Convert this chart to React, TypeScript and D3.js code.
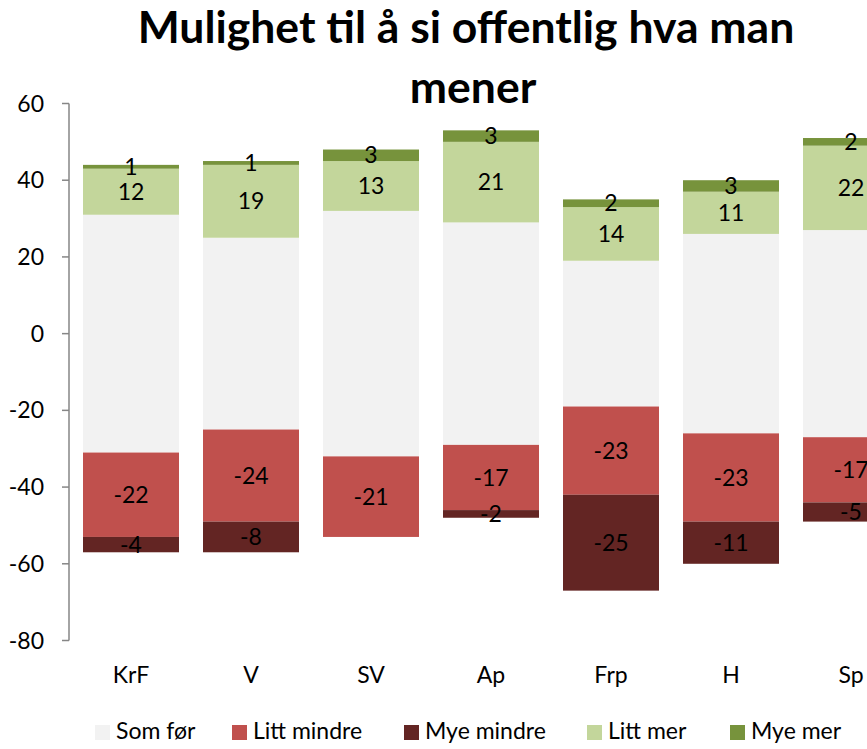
import React from "react";
import * as d3 from "d3";

// parties on the x axis
const parties = ["KrF", "V", "SV", "Ap", "Frp", "H", "Sp"];

// answers in percent
const somFor = [62, 50, 64, 58, 38, 52, 54];
const littMindre = [-22, -24, -21, -17, -23, -23, -17];
const myeMindre = [-4, -8, 0, -2, -25, -11, -5];
const littMer = [12, 19, 13, 21, 14, 11, 22];
const myeMer = [1, 1, 3, 3, 2, 3, 2];

const yTicks = [-80, -60, -40, -20, 0, 20, 40, 60];

const legendItems = ["Som før", "Litt mindre", "Mye mindre", "Litt mer", "Mye mer"];
const colors = ["#F2F2F2", "#C0504D", "#632523", "#C3D69B", "#77933C"];

const W = 867;
const H = 749;
const font = "Lato, 'Open Sans', sans-serif";

export default function App() {
  const x = d3.scaleBand().domain(parties).range([71, 911]).paddingInner(0.2).paddingOuter(0.1);
  const y = d3.scaleLinear().domain([-80, 60]).range([640.5, 103.5]);

  // build the segments: gray centred on zero, the rest stacked out from it
  const segs = [];
  parties.forEach((p, i) => {
    const half = somFor[i] / 2;
    segs.push({ p, y0: -half, y1: half, c: colors[0], label: null });
    let lo = -half;
    [littMindre[i], myeMindre[i]].forEach((v, k) => {
      if (v !== 0) segs.push({ p, y0: lo + v, y1: lo, c: colors[1 + k], label: v });
      lo += v;
    });
    let hi = half;
    [littMer[i], myeMer[i]].forEach((v, k) => {
      if (v !== 0) segs.push({ p, y0: hi, y1: hi + v, c: colors[3 + k], label: v });
      hi += v;
    });
  });

  const legendX = [95, 232, 404, 587, 730];

  return (
    <svg
      width={W}
      height={H}
      style={{ position: "absolute", left: 0, top: 0, background: "#fff" }}
      fontFamily={font}
    >
      <text x={466} y={43} textAnchor="middle" fontSize={44.5} fontWeight="bold">
        Mulighet til å si offentlig hva man
      </text>
      <text x={473} y={103} textAnchor="middle" fontSize={44.5} fontWeight="bold">
        mener
      </text>

      {/* bars */}
      {segs.map((s, i) => (
        <rect
          key={i}
          x={x(s.p)}
          y={y(s.y1)}
          width={x.bandwidth()}
          height={y(s.y0) - y(s.y1)}
          fill={s.c}
        />
      ))}
      {segs
        .filter((s) => s.label !== null)
        .map((s, i) => (
          <text
            key={"l" + i}
            x={x(s.p) + x.bandwidth() / 2}
            y={(y(s.y0) + y(s.y1)) / 2}
            dy="0.35em"
            textAnchor="middle"
            fontSize={23}
            fill="#000"
          >
            {s.label}
          </text>
        ))}

      {/* y axis */}
      <line x1={69} x2={69} y1={y(60)} y2={y(-80)} stroke="#868686" strokeWidth={1.5} />
      {yTicks.map((t) => (
        <g key={t}>
          <line x1={62} x2={69} y1={y(t)} y2={y(t)} stroke="#868686" strokeWidth={1.5} />
          <text x={44} y={y(t)} dy="0.35em" textAnchor="end" fontSize={23}>
            {t}
          </text>
        </g>
      ))}

      {/* x labels */}
      {parties.map((p) => (
        <text key={p} x={x(p) + x.bandwidth() / 2} y={683} textAnchor="middle" fontSize={23}>
          {p}
        </text>
      ))}

      {/* legend */}
      {legendItems.map((l, i) => (
        <g key={l}>
          <rect x={legendX[i]} y={725} width={15} height={15} fill={colors[i]} />
          <text x={legendX[i] + 21} y={739} fontSize={23}>
            {l}
          </text>
        </g>
      ))}
    </svg>
  );
}
